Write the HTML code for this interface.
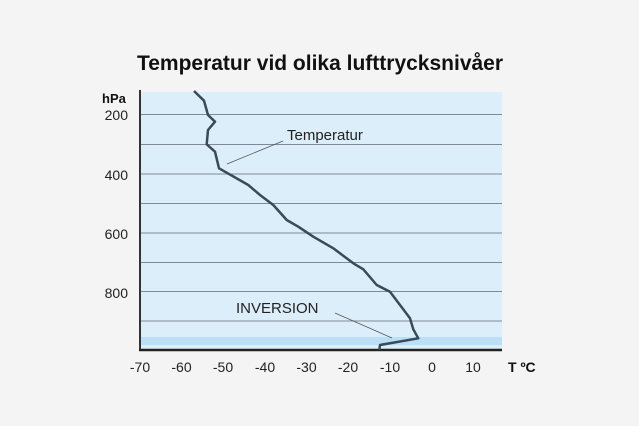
<!DOCTYPE html>
<html><head><style>
body{margin:0;width:639px;height:421px;background:#f4f4f4;font-family:"Liberation Sans",sans-serif;overflow:hidden}
</style></head><body>
<svg width="639" height="421" xmlns="http://www.w3.org/2000/svg">
<rect width="639" height="421" fill="#f4f4f4"/>
<text x="320" y="70" text-anchor="middle" font-size="21" font-weight="bold" fill="#111">Temperatur vid olika lufttrycksnivåer</text>
<rect x="140" y="92" width="362" height="258" fill="#ddeefb"/>
<rect x="140" y="337" width="362" height="8" fill="#b9e0f7"/>
<g stroke="#7d8a95" stroke-width="1">
<line x1="140" y1="114.5" x2="502" y2="114.5"/><line x1="140" y1="144.5" x2="502" y2="144.5"/>
<line x1="140" y1="174" x2="502" y2="174"/><line x1="140" y1="203.5" x2="502" y2="203.5"/>
<line x1="140" y1="233" x2="502" y2="233"/><line x1="140" y1="262.5" x2="502" y2="262.5"/>
<line x1="140" y1="291.5" x2="502" y2="291.5"/><line x1="140" y1="321" x2="502" y2="321"/>
</g>
<line x1="140" y1="90" x2="140" y2="351" stroke="#333" stroke-width="2"/>
<line x1="139" y1="350" x2="502" y2="350" stroke="#222" stroke-width="2.5"/>
<polyline fill="none" stroke="#3a4a58" stroke-width="2.5" stroke-linejoin="round" points="194,91 204,100.7 208,115 215,121.7 208,130 206.7,144.3 215,151.7 219,168.3 248.3,185 260,195 273.3,205 286.7,220 298.3,226.7 313.3,236.7 333.3,248.3 353.3,263.3 363.3,269.3 376.7,285 390,291.7 410,318.3 413.3,329.3 418.3,338.3 380,345 379.3,350"/>
<line x1="227" y1="164" x2="283" y2="141" stroke="#555" stroke-width="0.8"/>
<line x1="335" y1="313" x2="392" y2="338" stroke="#555" stroke-width="0.8"/>
<text x="287" y="140" font-size="15" fill="#222">Temperatur</text>
<text x="236" y="313" font-size="15" fill="#222">INVERSION</text>
<g font-size="14" fill="#222" text-anchor="end">
<text x="128" y="120">200</text><text x="128" y="180">400</text><text x="128" y="239">600</text><text x="128" y="298">800</text>
</g>
<text x="102" y="103" font-size="13" font-weight="bold" fill="#111">hPa</text>
<g font-size="14" fill="#222" text-anchor="middle">
<text x="140" y="372">-70</text><text x="181.5" y="372">-60</text><text x="223" y="372">-50</text><text x="265" y="372">-40</text><text x="306.5" y="372">-30</text><text x="348" y="372">-20</text><text x="390" y="372">-10</text><text x="432" y="372">0</text><text x="473" y="372">10</text>
</g>
<text x="508" y="372" font-size="14" font-weight="bold" fill="#111">T ºC</text>
</svg>
</body></html>
